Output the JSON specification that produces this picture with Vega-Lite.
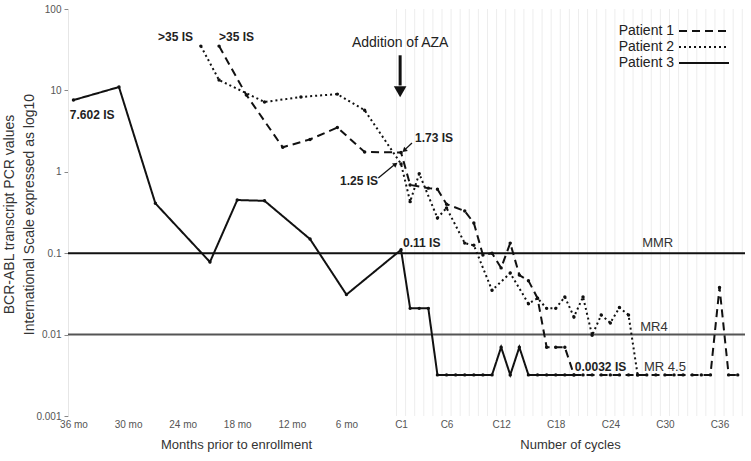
{
  "$schema": "https://vega.github.io/schema/vega-lite/v6.json",
  "width": 677,
  "height": 407,
  "autosize": "none",
  "padding": {"left": 68, "top": 9, "right": 6, "bottom": 45},
  "background": "white",
  "config": {"view": {"stroke": null}, "font": "Liberation Sans"},
  "datasets": {
    "pts": [
      {"patient": "Patient 1", "t": -20, "v": 35},
      {"patient": "Patient 1", "t": -17, "v": 8.8},
      {"patient": "Patient 1", "t": -13, "v": 2.0},
      {"patient": "Patient 1", "t": -10, "v": 2.5},
      {"patient": "Patient 1", "t": -7, "v": 3.5},
      {"patient": "Patient 1", "t": -4, "v": 1.75},
      {"patient": "Patient 1", "t": 0, "v": 1.73},
      {"patient": "Patient 1", "t": 1, "v": 0.69},
      {"patient": "Patient 1", "t": 3, "v": 0.63},
      {"patient": "Patient 1", "t": 4, "v": 0.61},
      {"patient": "Patient 1", "t": 5, "v": 0.40},
      {"patient": "Patient 1", "t": 7, "v": 0.33},
      {"patient": "Patient 1", "t": 8, "v": 0.235},
      {"patient": "Patient 1", "t": 9, "v": 0.095},
      {"patient": "Patient 1", "t": 10, "v": 0.1},
      {"patient": "Patient 1", "t": 11, "v": 0.066},
      {"patient": "Patient 1", "t": 12, "v": 0.133},
      {"patient": "Patient 1", "t": 13, "v": 0.054},
      {"patient": "Patient 1", "t": 14, "v": 0.046},
      {"patient": "Patient 1", "t": 15, "v": 0.028},
      {"patient": "Patient 1", "t": 16, "v": 0.007},
      {"patient": "Patient 1", "t": 17, "v": 0.007},
      {"patient": "Patient 1", "t": 18, "v": 0.007},
      {"patient": "Patient 1", "t": 19, "v": 0.0032},
      {"patient": "Patient 1", "t": 20, "v": 0.0032},
      {"patient": "Patient 1", "t": 21, "v": 0.0032},
      {"patient": "Patient 1", "t": 22, "v": 0.0032},
      {"patient": "Patient 1", "t": 23, "v": 0.0032},
      {"patient": "Patient 1", "t": 24, "v": 0.0032},
      {"patient": "Patient 1", "t": 25, "v": 0.0032},
      {"patient": "Patient 1", "t": 26, "v": 0.0032},
      {"patient": "Patient 1", "t": 27, "v": 0.0032},
      {"patient": "Patient 1", "t": 28, "v": 0.0032},
      {"patient": "Patient 1", "t": 29, "v": 0.0032},
      {"patient": "Patient 1", "t": 30, "v": 0.0032},
      {"patient": "Patient 1", "t": 31, "v": 0.0032},
      {"patient": "Patient 1", "t": 32, "v": 0.0032},
      {"patient": "Patient 1", "t": 33, "v": 0.0032},
      {"patient": "Patient 1", "t": 34, "v": 0.0032},
      {"patient": "Patient 1", "t": 35, "v": 0.038},
      {"patient": "Patient 1", "t": 36, "v": 0.0032},
      {"patient": "Patient 1", "t": 37, "v": 0.0032},
      {"patient": "Patient 2", "t": -22, "v": 35},
      {"patient": "Patient 2", "t": -20, "v": 13.4},
      {"patient": "Patient 2", "t": -15, "v": 7.2},
      {"patient": "Patient 2", "t": -11, "v": 8.3},
      {"patient": "Patient 2", "t": -7, "v": 9.0},
      {"patient": "Patient 2", "t": -4, "v": 5.7},
      {"patient": "Patient 2", "t": 0, "v": 1.25},
      {"patient": "Patient 2", "t": 1, "v": 0.43},
      {"patient": "Patient 2", "t": 2, "v": 0.95},
      {"patient": "Patient 2", "t": 4, "v": 0.27},
      {"patient": "Patient 2", "t": 5, "v": 0.36},
      {"patient": "Patient 2", "t": 7, "v": 0.133},
      {"patient": "Patient 2", "t": 8, "v": 0.125},
      {"patient": "Patient 2", "t": 10, "v": 0.035},
      {"patient": "Patient 2", "t": 12, "v": 0.057},
      {"patient": "Patient 2", "t": 14, "v": 0.024},
      {"patient": "Patient 2", "t": 15, "v": 0.028},
      {"patient": "Patient 2", "t": 16, "v": 0.021},
      {"patient": "Patient 2", "t": 17, "v": 0.021},
      {"patient": "Patient 2", "t": 18, "v": 0.029},
      {"patient": "Patient 2", "t": 19, "v": 0.0165},
      {"patient": "Patient 2", "t": 20, "v": 0.029},
      {"patient": "Patient 2", "t": 21, "v": 0.0098},
      {"patient": "Patient 2", "t": 22, "v": 0.0174},
      {"patient": "Patient 2", "t": 23, "v": 0.0139},
      {"patient": "Patient 2", "t": 24, "v": 0.0215},
      {"patient": "Patient 2", "t": 25, "v": 0.0174},
      {"patient": "Patient 2", "t": 26, "v": 0.0032},
      {"patient": "Patient 3", "t": -36, "v": 7.602},
      {"patient": "Patient 3", "t": -31, "v": 11},
      {"patient": "Patient 3", "t": -27, "v": 0.41},
      {"patient": "Patient 3", "t": -21, "v": 0.078},
      {"patient": "Patient 3", "t": -18, "v": 0.45},
      {"patient": "Patient 3", "t": -15, "v": 0.44},
      {"patient": "Patient 3", "t": -10, "v": 0.149},
      {"patient": "Patient 3", "t": -6, "v": 0.031},
      {"patient": "Patient 3", "t": 0, "v": 0.11},
      {"patient": "Patient 3", "t": 1, "v": 0.021},
      {"patient": "Patient 3", "t": 2, "v": 0.021},
      {"patient": "Patient 3", "t": 3, "v": 0.021},
      {"patient": "Patient 3", "t": 4, "v": 0.0032},
      {"patient": "Patient 3", "t": 5, "v": 0.0032},
      {"patient": "Patient 3", "t": 6, "v": 0.0032},
      {"patient": "Patient 3", "t": 7, "v": 0.0032},
      {"patient": "Patient 3", "t": 8, "v": 0.0032},
      {"patient": "Patient 3", "t": 9, "v": 0.0032},
      {"patient": "Patient 3", "t": 10, "v": 0.0032},
      {"patient": "Patient 3", "t": 11, "v": 0.007},
      {"patient": "Patient 3", "t": 12, "v": 0.0032},
      {"patient": "Patient 3", "t": 13, "v": 0.007},
      {"patient": "Patient 3", "t": 14, "v": 0.0032},
      {"patient": "Patient 3", "t": 15, "v": 0.0032},
      {"patient": "Patient 3", "t": 16, "v": 0.0032},
      {"patient": "Patient 3", "t": 17, "v": 0.0032},
      {"patient": "Patient 3", "t": 18, "v": 0.0032},
      {"patient": "Patient 3", "t": 19, "v": 0.0032}
    ],
    "grid": [
      {"t": -0.5}, {"t": 0.5}, {"t": 1.5}, {"t": 2.5}, {"t": 3.5}, {"t": 4.5}, {"t": 5.5}, {"t": 6.5}, {"t": 7.5}, {"t": 8.5},
      {"t": 9.5}, {"t": 10.5}, {"t": 11.5}, {"t": 12.5}, {"t": 13.5}, {"t": 14.5}, {"t": 15.5}, {"t": 16.5}, {"t": 17.5}, {"t": 18.5},
      {"t": 19.5}, {"t": 20.5}, {"t": 21.5}, {"t": 22.5}, {"t": 23.5}, {"t": 24.5}, {"t": 25.5}, {"t": 26.5}, {"t": 27.5}, {"t": 28.5},
      {"t": 29.5}, {"t": 30.5}, {"t": 31.5}, {"t": 32.5}, {"t": 33.5}, {"t": 34.5}, {"t": 35.5}, {"t": 36.5}, {"t": 37.5}
    ],
    "refs": [
      {"name": "MMR", "v": 0.1},
      {"name": "MR4", "v": 0.01}
    ],
    "bigArrow": [{"t": -0.1, "v": 27, "v2": 11.5}],
    "bigHead": [{"t": -0.1, "v": 9.6}],
    "arrow173": [{"t": 1.2, "v": 2.26, "t2": 0.4, "v2": 1.86}],
    "head173": [{"t": 0.35, "v": 1.83}],
    "arrow125": [{"t": -2.5, "v": 0.84, "t2": -0.8, "v2": 1.2}],
    "head125": [{"t": -0.6, "v": 1.24}],
    "boldLabels": [
      {"t": -36.4, "v": 5.0, "label": "7.602 IS"},
      {"t": -26.7, "v": 45, "label": ">35 IS"},
      {"t": -20.0, "v": 45, "label": ">35 IS"},
      {"t": 1.54, "v": 2.6, "label": "1.73 IS"},
      {"t": -6.7, "v": 0.77, "label": "1.25 IS"},
      {"t": 0.22, "v": 0.133, "label": "0.11 IS"},
      {"t": 19.1, "v": 0.004, "label": "0.0032 IS"}
    ],
    "aza": [{"t": -0.1, "v": 38, "label": "Addition of AZA"}],
    "refLabels": [
      {"t": 28.2, "v": 0.133, "label": "MMR"},
      {"t": 27.8, "v": 0.0124, "label": "MR4"},
      {"t": 29.0, "v": 0.004, "label": "MR 4.5"}
    ]
  },
  "layer": [
    {
      "data": {"name": "grid"},
      "mark": {"type": "rule", "color": "#ededed", "strokeWidth": 1},
      "encoding": {
        "x": {
          "field": "t", "type": "quantitative",
          "scale": {"domain": [-36.6, 37.8], "nice": false, "zero": false},
          "axis": {
            "orient": "bottom", "title": "Number of cycles", "labels": false, "ticks": false,
            "domain": false, "grid": false, "titleX": 502, "titleY": 28, "titleBaseline": "middle",
            "titleFontSize": 13, "titleFontWeight": "normal", "titleColor": "#333", "titleFont": "Liberation Sans"
          }
        }
      }
    },
    {
      "data": {"name": "refs"},
      "mark": {"type": "rule", "strokeWidth": 2},
      "encoding": {
        "y": {"field": "v", "type": "quantitative"},
        "color": {"field": "name", "type": "nominal", "scale": {"domain": ["MMR", "MR4"], "range": ["#111111", "#555555"]}, "legend": null}
      }
    },
    {
      "data": {"name": "pts"},
      "mark": {"type": "line", "color": "#111", "strokeWidth": 2},
      "encoding": {
        "x": {
          "field": "t", "type": "quantitative",
          "axis": {
            "orient": "bottom", "title": "Months prior to enrollment",
            "values": [-36, -30, -24, -18, -12, -6, 0, 5, 11, 17, 23, 29, 35],
            "labelExpr": "datum.value < 0 ? (-datum.value) + ' mo' : 'C' + (datum.value + 1)",
            "labelFontSize": 10, "labelColor": "#555", "labelPadding": 3, "labelFont": "Liberation Sans",
            "ticks": false, "domain": false, "grid": false,
            "titleX": 168, "titleY": 28, "titleBaseline": "middle",
            "titleFontSize": 13, "titleFontWeight": "normal", "titleColor": "#333", "titleFont": "Liberation Sans"
          }
        },
        "y": {
          "field": "v", "type": "quantitative",
          "scale": {"type": "log", "domain": [0.001, 100], "nice": false},
          "axis": {
            "values": [0.001, 0.01, 0.1, 1, 10, 100], "format": "~g",
            "title": ["BCR-ABL transcript PCR values", "International Scale expressed as log10"],
            "titleFontSize": 14, "titleFontWeight": "normal", "titleColor": "#333", "titleFont": "Liberation Sans",
            "titleLineHeight": 20, "titleX": -52, "titleY": 205, "titleBaseline": "bottom", "titleAngle": -90,
            "labelFontSize": 10, "labelColor": "#555", "labelFont": "Liberation Sans", "labelPadding": 3,
            "tickSize": 4, "tickColor": "#888", "domainColor": "#e6e6e6", "grid": false
          }
        },
        "detail": {"field": "patient", "type": "nominal"},
        "strokeDash": {
          "field": "patient", "type": "nominal",
          "scale": {"domain": ["Patient 1", "Patient 2", "Patient 3"], "range": [[8, 5], [2, 3], [1, 0]]},
          "legend": {
            "orient": "none", "legendX": 629, "legendY": 15, "title": null,
            "symbolType": "M-5,0H5", "symbolSize": 100, "symbolStrokeWidth": 2,
            "symbolStrokeColor": "#111", "symbolFillColor": "transparent",
            "labelFontSize": 14, "labelColor": "#222", "labelFont": "Liberation Sans",
            "labelAlign": "right", "labelOffset": -37, "rowPadding": 2, "padding": 0
          }
        }
      }
    },
    {
      "data": {"name": "pts"},
      "mark": {"type": "point", "filled": true, "color": "#111", "size": 12, "opacity": 1},
      "encoding": {
        "x": {"field": "t", "type": "quantitative", "axis": null},
        "y": {"field": "v", "type": "quantitative"}
      }
    },
    {
      "data": {"name": "bigArrow"},
      "mark": {"type": "rule", "color": "#111", "strokeWidth": 3},
      "encoding": {
        "x": {"field": "t", "type": "quantitative", "axis": null},
        "y": {"field": "v", "type": "quantitative"},
        "y2": {"field": "v2"}
      }
    },
    {
      "data": {"name": "bigHead"},
      "mark": {"type": "point", "shape": "triangle-down", "filled": true, "color": "#111", "size": 160, "opacity": 1},
      "encoding": {
        "x": {"field": "t", "type": "quantitative", "axis": null},
        "y": {"field": "v", "type": "quantitative"}
      }
    },
    {
      "data": {"name": "arrow173"},
      "mark": {"type": "rule", "color": "#111", "strokeWidth": 1.3},
      "encoding": {
        "x": {"field": "t", "type": "quantitative", "axis": null},
        "x2": {"field": "t2"},
        "y": {"field": "v", "type": "quantitative"},
        "y2": {"field": "v2"}
      }
    },
    {
      "data": {"name": "head173"},
      "mark": {"type": "point", "shape": "triangle-up", "filled": true, "color": "#111", "size": 30, "angle": 228, "opacity": 1},
      "encoding": {
        "x": {"field": "t", "type": "quantitative", "axis": null},
        "y": {"field": "v", "type": "quantitative"}
      }
    },
    {
      "data": {"name": "arrow125"},
      "mark": {"type": "rule", "color": "#111", "strokeWidth": 1.3},
      "encoding": {
        "x": {"field": "t", "type": "quantitative", "axis": null},
        "x2": {"field": "t2"},
        "y": {"field": "v", "type": "quantitative"},
        "y2": {"field": "v2"}
      }
    },
    {
      "data": {"name": "head125"},
      "mark": {"type": "point", "shape": "triangle-up", "filled": true, "color": "#111", "size": 30, "angle": 52, "opacity": 1},
      "encoding": {
        "x": {"field": "t", "type": "quantitative", "axis": null},
        "y": {"field": "v", "type": "quantitative"}
      }
    },
    {
      "data": {"name": "boldLabels"},
      "mark": {"type": "text", "align": "left", "baseline": "middle", "fontSize": 12, "fontWeight": "bold", "color": "#222", "font": "Liberation Sans"},
      "encoding": {
        "x": {"field": "t", "type": "quantitative", "axis": null},
        "y": {"field": "v", "type": "quantitative"},
        "text": {"field": "label"}
      }
    },
    {
      "data": {"name": "aza"},
      "mark": {"type": "text", "align": "center", "baseline": "middle", "fontSize": 14, "color": "#222", "font": "Liberation Sans"},
      "encoding": {
        "x": {"field": "t", "type": "quantitative", "axis": null},
        "y": {"field": "v", "type": "quantitative"},
        "text": {"field": "label"}
      }
    },
    {
      "data": {"name": "refLabels"},
      "mark": {"type": "text", "align": "center", "baseline": "middle", "fontSize": 13, "color": "#333", "font": "Liberation Sans"},
      "encoding": {
        "x": {"field": "t", "type": "quantitative", "axis": null},
        "y": {"field": "v", "type": "quantitative"},
        "text": {"field": "label"}
      }
    }
  ],
  "resolve": {"axis": {"x": "independent"}}
}
